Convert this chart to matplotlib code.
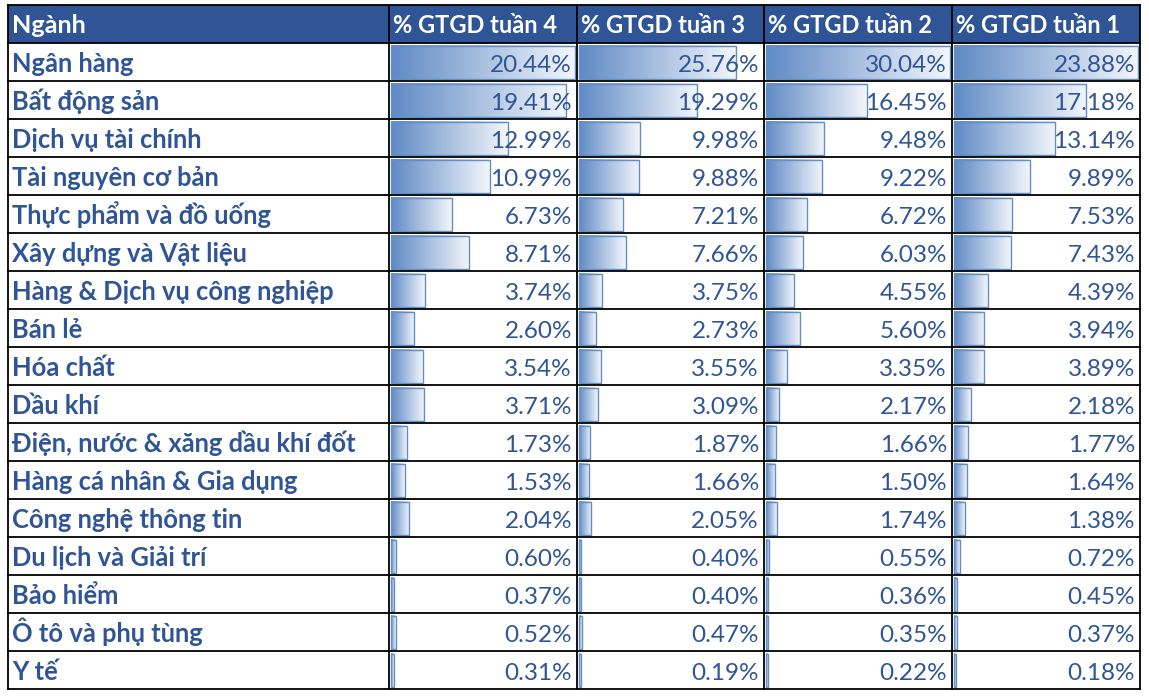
"""Bảng tỷ trọng GTGD theo ngành, 4 tuần, dạng data bar kiểu Excel.

Writes out.png.
"""
import matplotlib
matplotlib.use("Agg")
import matplotlib.pyplot as plt
import numpy as np
from matplotlib.colors import LinearSegmentedColormap
from matplotlib.patches import Rectangle

plt.rcParams["font.family"] = ["Lato", "DejaVu Sans"]

sectors = ["Ngân hàng", "Bất động sản", "Dịch vụ tài chính", "Tài nguyên cơ bản",
           "Thực phẩm và đồ uống", "Xây dựng và Vật liệu", "Hàng & Dịch vụ công nghiệp",
           "Bán lẻ", "Hóa chất", "Dầu khí", "Điện, nước & xăng dầu khí đốt",
           "Hàng cá nhân & Gia dụng", "Công nghệ thông tin", "Du lịch và Giải trí",
           "Bảo hiểm", "Ô tô và phụ tùng", "Y tế"]
week4 = [20.44, 19.41, 12.99, 10.99, 6.73, 8.71, 3.74, 2.60, 3.54, 3.71,
         1.73, 1.53, 2.04, 0.60, 0.37, 0.52, 0.31]
week3 = [25.76, 19.29, 9.98, 9.88, 7.21, 7.66, 3.75, 2.73, 3.55, 3.09,
         1.87, 1.66, 2.05, 0.40, 0.40, 0.47, 0.19]
week2 = [30.04, 16.45, 9.48, 9.22, 6.72, 6.03, 4.55, 5.60, 3.35, 2.17,
         1.66, 1.50, 1.74, 0.55, 0.36, 0.35, 0.22]
week1 = [23.88, 17.18, 13.14, 9.89, 7.53, 7.43, 4.39, 3.94, 3.89, 2.18,
         1.77, 1.64, 1.38, 0.72, 0.45, 0.37, 0.18]
headers = ["Ngành", "% GTGD tuần 4", "% GTGD tuần 3", "% GTGD tuần 2", "% GTGD tuần 1"]

W, H = 1149, 696
COL_EDGES = [8, 389, 577, 764, 952, 1140]
TOP, HEAD_BOT, BOTTOM = 5, 43, 689
HEAD_BG = "#2F5597"
TEXT_BLUE = "#2F5597"
BAR_EDGE = "#638EC6"

bar_cmap = LinearSegmentedColormap.from_list("bar", ["#5F8AC5", "#F3F6FB"])
gradient = np.linspace(0, 1, 256).reshape(1, -1)

fig = plt.figure(figsize=(W / 100, H / 100), dpi=100, facecolor="white")
ax = fig.add_axes([0, 0, 1, 1])
ax.set_xlim(0, W)
ax.set_ylim(H, 0)
ax.axis("off")

n = len(sectors)
row_h = (BOTTOM - HEAD_BOT) / n

# header
ax.add_patch(Rectangle((COL_EDGES[0], TOP), COL_EDGES[-1] - COL_EDGES[0], HEAD_BOT - TOP,
                       facecolor=HEAD_BG, edgecolor="none", zorder=1))
for j, h in enumerate(headers):
    ax.text(COL_EDGES[j] + 4, (TOP + HEAD_BOT) / 2 + 9, h, color="white",
            fontsize=18.2 if j == 0 else 17.0, fontweight="bold",
            ha="left", va="baseline", zorder=5)

# the week-3 bars in the source sheet share the week-2 scale
columns = [week4, week3, week2, week1]
scales = [max(week4), max(week3 + week2), max(week2), max(week1)]
for i, name in enumerate(sectors):
    y0 = HEAD_BOT + i * row_h
    yc = y0 + row_h / 2
    ax.text(COL_EDGES[0] + 4, yc + 9.5, name, color=TEXT_BLUE, fontsize=18.4,
            fontweight="bold", ha="left", va="baseline", zorder=5)
    for j, vals in enumerate(columns):
        x0 = COL_EDGES[j + 1] + 2
        inner = COL_EDGES[j + 2] - COL_EDGES[j + 1] - 4
        bw = max(vals[i] / scales[j] * inner, 1.5)
        bt, bb = y0 + 2.5, y0 + row_h - 2
        ax.imshow(gradient, cmap=bar_cmap, aspect="auto", extent=(x0, x0 + bw, bb, bt),
                  interpolation="bilinear", zorder=2)
        ax.add_patch(Rectangle((x0, bt), bw, bb - bt, facecolor="none",
                               edgecolor=BAR_EDGE, lw=1.0, zorder=3))
        ax.text(COL_EDGES[j + 2] - 5, yc + 9.5, f"{vals[i]:.2f}%", color=TEXT_BLUE,
                fontsize=17.5, ha="right", va="baseline", zorder=5)

# grid lines
for x in COL_EDGES:
    ax.plot([x, x], [TOP, BOTTOM], color="black", lw=1.3, zorder=6)
for k in range(n + 1):
    y = HEAD_BOT + k * row_h
    ax.plot([COL_EDGES[0], COL_EDGES[-1]], [y, y], color="black", lw=1.3, zorder=6)
ax.plot([COL_EDGES[0], COL_EDGES[-1]], [TOP, TOP], color="black", lw=1.3, zorder=6)

ax.set_xlim(0, W)
ax.set_ylim(H, 0)
fig.savefig("out.png", dpi=100, facecolor="white")
